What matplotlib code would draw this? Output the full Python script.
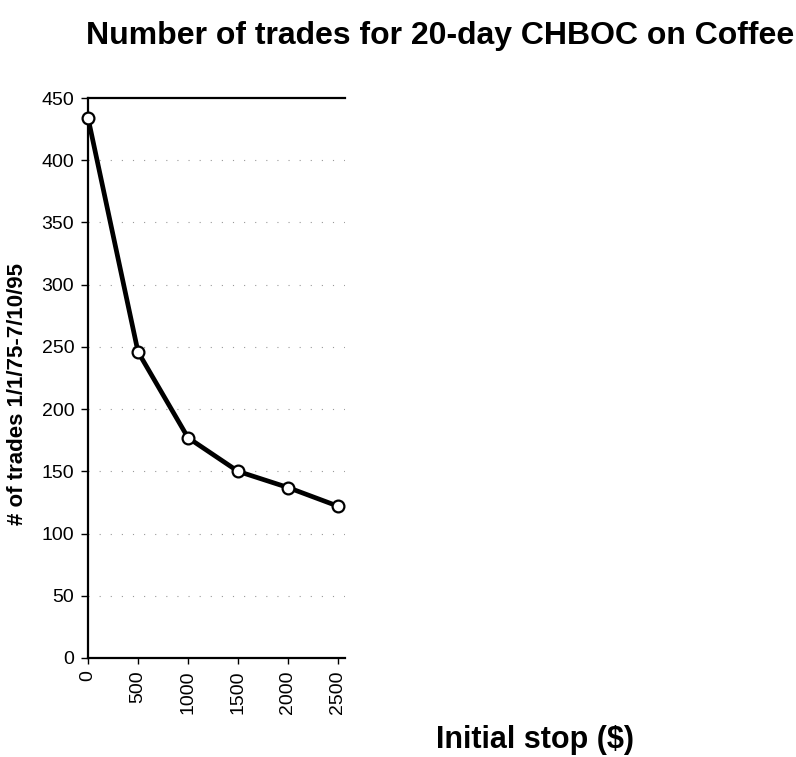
import matplotlib
matplotlib.use("Agg")
import matplotlib.pyplot as plt

# Number of trades vs. initial stop size
stops = [0, 500, 1000, 1500, 2000, 2500]
trades = [434, 246, 177, 150, 137, 122]
x_ticks = [0, 500, 1000, 1500, 2000, 2500]
y_ticks = [0, 50, 100, 150, 200, 250, 300, 350, 400, 450]

plt.rcParams['font.family'] = ['Liberation Sans', 'DejaVu Sans']

fig = plt.figure(figsize=(7.96, 7.57), dpi=100)
ax = fig.add_axes([0.1106, 0.1308, 0.3228, 0.7397])

ax.plot(stops, trades, color='black', linewidth=3.4, marker='o',
        markersize=8.5, markerfacecolor='white', markeredgecolor='black',
        markeredgewidth=1.6, zorder=3, clip_on=False)

ax.set_xlim(0, 2570)
ax.set_ylim(0, 450)
ax.set_xticks(x_ticks)
ax.set_xticklabels([str(v) for v in x_ticks], rotation=90, fontsize=14)
ax.set_yticks(y_ticks)
ax.set_yticklabels([str(v) for v in y_ticks], fontsize=14)

for v in y_ticks[1:-1]:
    ax.axhline(v, color='#999999', linewidth=0.8, linestyle=(0, (1, 9)), zorder=1)

ax.spines['right'].set_visible(False)
for s in ['left', 'bottom', 'top']:
    ax.spines[s].set_linewidth(1.6)
ax.tick_params(axis='y', direction='out', length=5, width=1, pad=5)
ax.tick_params(axis='x', direction='out', length=4, width=1, pad=5)

ax.set_ylabel('# of trades 1/1/75-7/10/95', fontsize=16, fontweight='bold')
ax.yaxis.set_label_coords(-0.232, 0.471)

fig.text(0.553, 0.953, 'Number of trades for 20-day CHBOC on Coffee',
         ha='center', va='center', fontsize=23, fontweight='bold')
fig.text(0.672, 1 - 748 / 757, 'Initial stop ($)', ha='center', va='baseline',
         fontsize=22, fontweight='bold')

fig.savefig('out.png', dpi=100)
